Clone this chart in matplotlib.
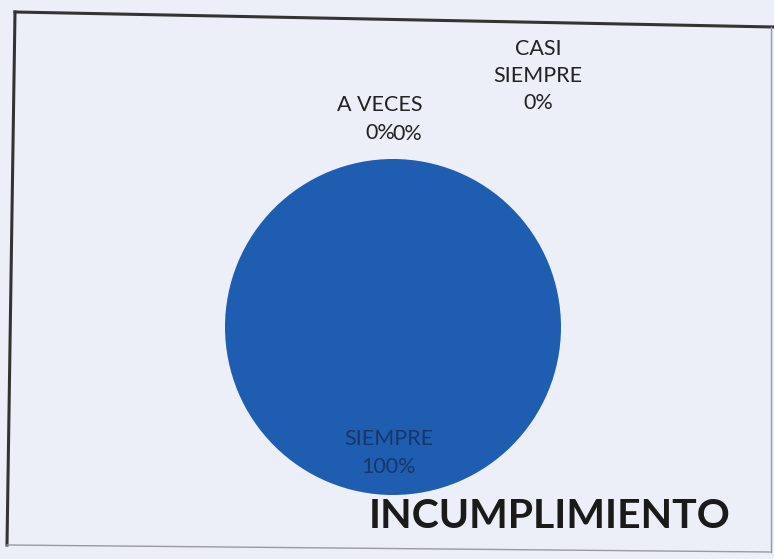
import matplotlib
matplotlib.use("Agg")
import matplotlib.pyplot as plt
from matplotlib.lines import Line2D

# data
categories = ["", "A VECES", "CASI SIEMPRE", "SIEMPRE"]
values = [0, 0, 0, 100]
title = "INCUMPLIMIENTO"

colors = ["#1f5db0", "#1f5db0", "#1f5db0", "#1f5db0"]
bg = "#eceff8"

fig = plt.figure(figsize=(7.74, 5.59), dpi=100, facecolor=bg)
ax = fig.add_axes([0, 0, 1, 1])
ax.set_facecolor(bg)

# pie drawn in pixel-like units so label placement is easy
cx, cy, r = 393, 559 - 327, 168
ax.pie(values, colors=colors, startangle=90, counterclock=False,
       center=(cx, cy), radius=r, wedgeprops=dict(linewidth=0))
ax.set_xlim(0, 774)
ax.set_ylim(0, 559)
ax.set_aspect("equal")
ax.axis("off")

total = sum(values)
pct = [f"{v / total * 100:.0f}%" for v in values]

# label spots (x, y) for each category, in the same pixel units
label_pos = [(407, 559 - 134), (380, 559 - 119), (538, 559 - 76), (389, 559 - 453)]
label_col = ["#222222", "#222222", "#222222", "#18366a"]
for name, p, (x, y), c in zip(categories, pct, label_pos, label_col):
    txt = p if name == "" else name.replace("CASI ", "CASI\n") + "\n" + p
    ax.text(x, y, txt, ha="center", va="center", fontsize=15.5, family="Lato",
            color=c, linespacing=1.45)

ax.text(550, 559 - 517, title, ha="center", va="center", fontsize=29.5,
        fontweight="bold", family="Lato", color="#1a1a1a")

# chart frame from the scan (slightly skewed)
fig.add_artist(Line2D([15 / 774, 1], [1 - 12 / 559, 1 - 27 / 559],
                      transform=fig.transFigure, color="#333333", lw=2.2))
fig.add_artist(Line2D([15 / 774, 7 / 774], [1 - 12 / 559, 1 - 545 / 559],
                      transform=fig.transFigure, color="#333333", lw=2.2))
fig.add_artist(Line2D([7 / 774, 771 / 774], [1 - 545 / 559, 1 - 552 / 559],
                      transform=fig.transFigure, color="#9a9aa0", lw=1.0))
fig.add_artist(Line2D([771 / 774, 771 / 774], [1 - 27 / 559, 1 - 552 / 559],
                      transform=fig.transFigure, color="#9a9aa0", lw=1.0))

fig.savefig("out.png", dpi=100, facecolor=bg)
